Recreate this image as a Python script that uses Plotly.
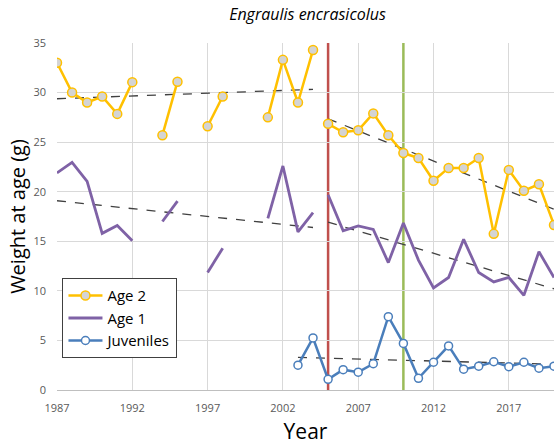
import numpy as np
import plotly.graph_objects as go

years = list(range(1987, 2021))

age2 = [33.0, 30.0, 29.0, 29.6, 27.85, 31.05, None, 25.7, 31.1, None,
        26.6, 29.6, None, None, 27.5, 33.3, 29.0, 34.3, 26.85, 26.0,
        26.2, 27.9, 25.7, 23.9, 23.4, 21.1, 22.4, 22.4, 23.4, 15.75,
        22.2, 20.1, 20.75, 16.65]

age1 = [21.9, 22.95, 21.05, 15.8, 16.6, 15.05, None, 17.0, 19.05, None,
        11.85, 14.3, None, None, 17.3, 22.6, 15.95, 17.9, 19.7, 16.05,
        16.55, 16.2, 12.85, 16.85, 13.1, 10.3, 11.35, 15.2, 11.85, 10.9,
        11.35, 9.55, 13.95, 11.35]

juveniles = [None] * 16 + [2.5, 5.25, 1.08, 2.05, 1.8, 2.65, 7.4, 4.7, 1.18,
                           2.8, 4.45, 2.1, 2.4, 2.85, 2.35, 2.8, 2.2, 2.4]

# periods over which linear trends are fitted
trend_periods = {
    "age2": [(1987, 2004), (2005, 2020)],
    "age1": [(1987, 2004), (2005, 2020)],
    "juveniles": [(2003, 2020)],
}
event_years = [2005, 2010]
event_colors = ["#C0504D", "#9BBB59"]
series_break = 2005  # adult series are not joined across this year

x_ticks = [1987, 1992, 1997, 2002, 2007, 2012, 2017]
y_ticks = [0, 5, 10, 15, 20, 25, 30, 35]

YELLOW = "#FFC000"
PURPLE = "#7F62A6"
BLUE = "#4A7EBB"
FONT = "Open Sans, sans-serif"

fig = go.Figure()


def split_at(values, brk):
    xs, ys = [], []
    for y, v in zip(years, values):
        if brk is not None and y == brk:
            xs.append(None)
            ys.append(None)
        xs.append(y)
        ys.append(v)
    return xs, ys


def add_trends(values, periods):
    for start, end in periods:
        xs = [y for y, v in zip(years, values) if v is not None and start <= y <= end]
        vs = [v for y, v in zip(years, values) if v is not None and start <= y <= end]
        slope, icpt = np.polyfit(xs, vs, 1)
        fx = [start, end]
        fig.add_trace(go.Scatter(
            x=fx, y=[slope * v + icpt for v in fx], mode="lines",
            line=dict(color="#404040", width=1.3, dash="dash"),
            showlegend=False, hoverinfo="skip"))


add_trends(age2, trend_periods["age2"])
add_trends(age1, trend_periods["age1"])
add_trends(juveniles, trend_periods["juveniles"])

x2, y2 = split_at(age2, series_break)
fig.add_trace(go.Scatter(
    x=x2, y=y2, name="Age 2", mode="lines+markers", connectgaps=False,
    line=dict(color=YELLOW, width=2.5),
    marker=dict(size=9, color="#D4D4D4", line=dict(color=YELLOW, width=1.5))))
x1, y1 = split_at(age1, series_break)
fig.add_trace(go.Scatter(
    x=x1, y=y1, name="Age 1", mode="lines", connectgaps=False,
    line=dict(color=PURPLE, width=2.8)))
fig.add_trace(go.Scatter(
    x=years, y=juveniles, name="Juveniles", mode="lines+markers", connectgaps=False,
    line=dict(color=BLUE, width=2.5),
    marker=dict(size=8, color="white", line=dict(color=BLUE, width=1.5))))

for yr, col in zip(event_years, event_colors):
    fig.add_shape(type="line", xref="x", yref="y", x0=yr, x1=yr, y0=0, y1=35,
                  line=dict(color=col, width=2.5), layer="below")

fig.update_layout(
    width=556, height=445,
    margin=dict(l=57, r=2, t=43, b=55),
    paper_bgcolor="white", plot_bgcolor="white",
    font=dict(family=FONT, color="black"),
    title=dict(text="<i>Engraulis encrasicolus</i>", x=0.553, xanchor="center",
               y=0.968, yanchor="middle", font=dict(size=16, family=FONT)),
    xaxis=dict(range=[1987, 2020], tickvals=x_ticks, showgrid=True,
               gridcolor="#D9D9D9", gridwidth=1, zeroline=False,
               showline=True, linecolor="#BFBFBF", linewidth=1,
               tickfont=dict(size=11, color="#595959"), ticks="",
               ticklabelstandoff=8,
               title=dict(text="Year", font=dict(size=21), standoff=10)),
    yaxis=dict(range=[0, 35], tickvals=y_ticks, showgrid=True,
               gridcolor="#D9D9D9", gridwidth=1, zeroline=False,
               showline=False, ticks="",
               tickfont=dict(size=11, color="#595959"),
               ticklabelstandoff=10,
               title=dict(text="Weight at age (g)", font=dict(size=20), standoff=2)),
    legend=dict(x=0.011, y=0.322, xanchor="left", yanchor="top",
                bgcolor="white", bordercolor="#404040", borderwidth=1,
                font=dict(size=15, family=FONT), itemwidth=34,
                tracegroupgap=0),
)

fig.write_html("out.html")
